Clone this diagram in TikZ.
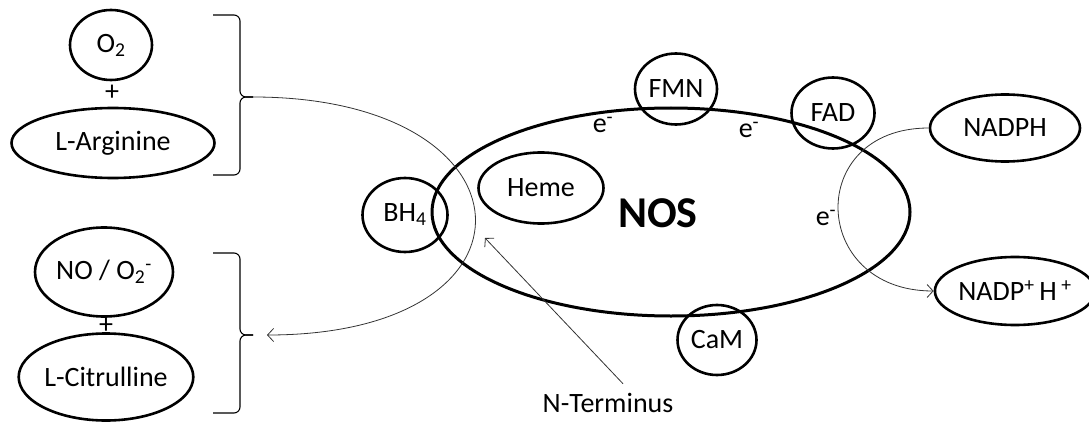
\documentclass[tikz,border=0pt]{standalone}
\usepackage{fontspec}
\setmainfont{Carlito}
\usetikzlibrary{shapes.geometric,arrows.meta}
\begin{document}
\begin{tikzpicture}[x=1pt,y=-1pt,>={Straight Barb[length=6pt,width=13pt]},
    mol/.style={draw,ellipse,line width=2.6pt,inner sep=0pt},
    lbl/.style={font=\fontsize{28}{30}\selectfont},
    flow/.style={line width=0.8pt,draw=black!80},
    brace/.style={line width=1.1pt,rounded corners=6pt}]
  \useasboundingbox (0,0) rectangle (1089,425);
  % substrates and products
  \node[mol,lbl,minimum width=82pt,minimum height=70pt] (o2) at (111,45) {O\textsubscript{2}};
  \node[lbl] (plusa) at (112,93) {+};
  \node[mol,lbl,minimum width=203pt,minimum height=70pt] (arg) at (113,143) {L-Arginine};
  \node[mol,lbl,minimum width=138pt,minimum height=89pt] (no) at (104,272) {NO / O\textsubscript{2}\textsuperscript{-}};
  \node[lbl] (plusb) at (106,326) {+};
  \node[mol,lbl,minimum width=162pt,minimum height=87pt] (cit) at (106,377) {L-Citrulline};
  % braces
  \coordinate (tipa) at (253,97);
  \coordinate (tipb) at (253,335);
  \draw[brace] (213,15) -- (240,15) -- (240,97) -- (tipa);
  \draw[brace] (tipa) -- (240,97) -- (240,175) -- (213,175);
  \draw[brace] (213,253) -- (240,253) -- (240,335) -- (tipb);
  \draw[brace] (tipb) -- (240,335) -- (240,413) -- (213,413);
  % enzyme
  \node[mol,line width=3pt,minimum width=478pt,minimum height=208pt] (nos) at (671,212) {};
  \node[font=\fontsize{44}{46}\selectfont\bfseries] (nostxt) at (658,213) {NOS};
  \node[mol,lbl,minimum width=82pt,minimum height=71pt] (fmn) at (676,89) {FMN};
  \node[mol,lbl,minimum width=83pt,minimum height=71pt] (fad) at (833,113) {FAD};
  \node[mol,lbl,minimum width=125pt,minimum height=71pt] (heme) at (541,188) {Heme};
  \node[mol,lbl,minimum width=85pt,minimum height=74pt] (bh4) at (405,215) {BH\textsubscript{4}};
  \node[mol,lbl,minimum width=79pt,minimum height=70pt] (cam) at (717,340) {CaM};
  \node[lbl] (ea) at (603,125) {e\textsuperscript{-}};
  \node[lbl] (eb) at (749,130) {e\textsuperscript{-}};
  \node[lbl] (ec) at (826,218) {e\textsuperscript{-}};
  % cofactor
  \node[mol,lbl,minimum width=150pt,minimum height=67pt] (nadph) at (1005,128) {NADPH};
  \node[mol,lbl,minimum width=146pt,minimum height=68pt] (nadp) at (1015,291) {NADP\textsuperscript{+}\,H\,\textsuperscript{+}};
  \node[lbl] (nterm) at (608,403) {N-Terminus};
  \coordinate (ntip) at (485,238);
  % arrows
  \draw[flow,->] (tipa) .. controls +(287,0) and +(287,0) .. ([xshift=14pt]tipb);
  \draw[flow,->] (nadph.west) .. controls +(-124,0) and +(-124,0) .. (nadp.west);
  \draw[flow,->] ([xshift=15pt,yshift=6pt]nterm.north) -- (ntip);
\end{tikzpicture}
\end{document}
